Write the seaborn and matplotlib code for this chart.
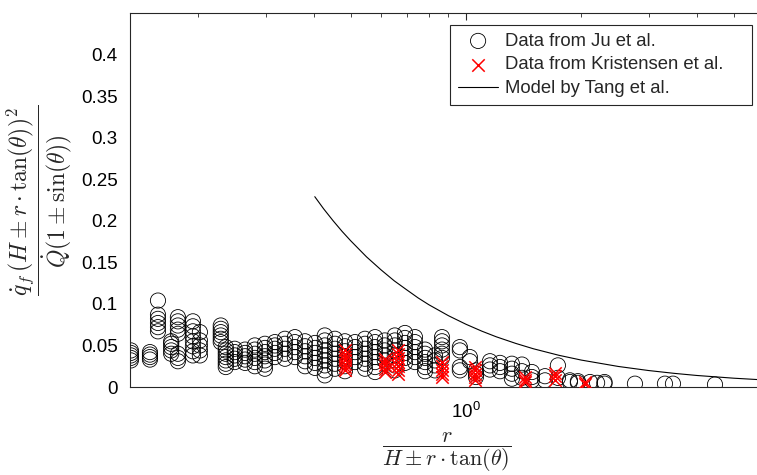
import numpy as np
import pandas as pd
import matplotlib
matplotlib.use("Agg")
import matplotlib.pyplot as plt
import matplotlib.ticker as mticker
import seaborn as sns

# ---------------- data ----------------
ju_cols_x = [0.1334, 0.1496, 0.157, 0.170, 0.177, 0.1937, 0.202, 0.229, 0.236,
             0.249, 0.265, 0.281, 0.2986, 0.317, 0.3368, 0.3576, 0.380, 0.4034,
             0.428, 0.455, 0.483, 0.513, 0.545, 0.579, 0.614, 0.652, 0.693,
             0.736, 0.782, 0.830, 0.866, 0.964, 1.024, 1.062, 1.155, 1.227,
             1.318, 1.400, 1.487, 1.608, 1.738, 1.868, 1.96, 2.108, 2.20, 2.30,
             2.762, 3.308, 3.471, 4.469]
ju_cols_y = [
    [0.032, 0.035, 0.038, 0.041, 0.044],
    [0.033, 0.036, 0.039, 0.042],
    [0.104, 0.087, 0.082, 0.077, 0.072, 0.067],
    [0.040, 0.044, 0.048, 0.052, 0.055],
    [0.084, 0.079, 0.074, 0.069, 0.064, 0.040, 0.035, 0.031],
    [0.079, 0.073, 0.067, 0.061, 0.055, 0.049, 0.043, 0.038],
    [0.066, 0.056, 0.050, 0.044, 0.038],
    [0.074, 0.070, 0.066, 0.062, 0.058, 0.054],
    [0.048, 0.044, 0.040, 0.036, 0.032, 0.028, 0.024],
    [0.046, 0.042, 0.038, 0.034, 0.030],
    [0.045, 0.041, 0.037, 0.033, 0.029],
    [0.050, 0.045, 0.040, 0.035, 0.030, 0.025],
    [0.052, 0.047, 0.042, 0.037, 0.032, 0.027, 0.022],
    [0.054, 0.050, 0.046, 0.041, 0.036],
    [0.058, 0.052, 0.046, 0.040, 0.034],
    [0.060, 0.054, 0.048, 0.042, 0.036],
    [0.055, 0.049, 0.043, 0.037, 0.031, 0.025],
    [0.053, 0.047, 0.041, 0.035, 0.029, 0.023],
    [0.062, 0.056, 0.050, 0.044, 0.038, 0.032, 0.026, 0.020, 0.014],
    [0.058, 0.052, 0.046, 0.040, 0.034, 0.028, 0.022],
    [0.055, 0.049, 0.043, 0.037, 0.031, 0.025, 0.019],
    [0.054, 0.048, 0.042, 0.036, 0.030],
    [0.058, 0.052, 0.046, 0.040, 0.034, 0.028, 0.022],
    [0.060, 0.054, 0.048, 0.042, 0.036, 0.030, 0.024, 0.018],
    [0.056, 0.050, 0.044, 0.038, 0.032],
    [0.062, 0.056, 0.050, 0.044, 0.038, 0.032, 0.026, 0.020],
    [0.065, 0.059, 0.053, 0.047, 0.041, 0.035, 0.029],
    [0.060, 0.054, 0.048, 0.042, 0.036, 0.030],
    [0.045, 0.040, 0.035, 0.030, 0.024, 0.019],
    [0.038, 0.032, 0.026, 0.020],
    [0.060, 0.055, 0.050, 0.045, 0.040, 0.035],
    [0.048, 0.044, 0.024, 0.020],
    [0.036, 0.031],
    [0.020, 0.016, 0.012],
    [0.031, 0.026, 0.021],
    [0.029, 0.024, 0.019],
    [0.028, 0.022, 0.016, 0.010],
    [0.027, 0.019, 0.011],
    [0.018, 0.012, 0.008],
    [0.013, 0.008],
    [0.026, 0.011],
    [0.008, 0.006],
    [0.007, 0.005],
    [0.006],
    [0.005],
    [0.006, 0.004],
    [0.004],
    [0.004],
    [0.004],
    [0.003],
]

kr_cols_x = [0.483, 0.614, 0.666, 0.866, 1.056, 1.426, 1.71, 2.046]
kr_cols_y = [
    [0.020, 0.024, 0.028, 0.032, 0.036, 0.040, 0.044],
    [0.018, 0.022, 0.026, 0.030, 0.034],
    [0.016, 0.020, 0.025, 0.030, 0.035, 0.040, 0.045],
    [0.012, 0.016, 0.020, 0.025, 0.030],
    [0.008, 0.012, 0.016, 0.020, 0.024],
    [0.006, 0.009, 0.012],
    [0.009, 0.013, 0.017],
    [0.004, 0.006],
]

model_x = [0.403, 0.425, 0.45, 0.475, 0.5, 0.55, 0.6, 0.65, 0.7, 0.75, 0.8,
           0.9, 1.0, 1.1, 1.2, 1.35, 1.5, 1.75, 2.0, 2.5, 3.0, 3.5, 4.0, 5.0, 6.0]
model_y = [0.229, 0.2144, 0.200, 0.1872, 0.176, 0.1566, 0.141, 0.1277, 0.117,
           0.1072, 0.099, 0.0858, 0.0755, 0.0672, 0.0604, 0.0524, 0.0460,
           0.0381, 0.0324, 0.0247, 0.0198, 0.0164, 0.0139, 0.0106, 0.0085]

y_ticks = [0, 0.05, 0.1, 0.15, 0.2, 0.25, 0.3, 0.35, 0.4]
legend_labels = ["Data from Ju et al.", "Data from Kristensen et al.",
                 "Model by Tang et al."]

ju_df = pd.DataFrame({
    "x": [x for x, ys in zip(ju_cols_x, ju_cols_y) for _ in ys],
    "y": [y for ys in ju_cols_y for y in ys],
})
kr_df = pd.DataFrame({
    "x": [x for x, ys in zip(kr_cols_x, kr_cols_y) for _ in ys],
    "y": [y for ys in kr_cols_y for y in ys],
})
model_df = pd.DataFrame({"x": model_x, "y": model_y})

# ---------------- style ----------------
sns.set_style("white")
plt.rcParams["font.family"] = ["Liberation Sans", "DejaVu Sans"]
plt.rcParams["axes.edgecolor"] = "#262626"
plt.rcParams["axes.linewidth"] = 0.8

fig = plt.figure(figsize=(7.57, 4.75), dpi=100)
W, H = 757, 475
ax_left, ax_right, ax_top, ax_bot = 130, 764, 13, 387
ax = fig.add_axes([ax_left / W, 1 - ax_bot / H,
                   (ax_right - ax_left) / W, (ax_bot - ax_top) / H])

sns.scatterplot(data=ju_df, x="x", y="y", ax=ax, marker="o", s=120,
                facecolors="none", edgecolor="black", linewidth=0.6,
                label=legend_labels[0], zorder=2)
sns.scatterplot(data=kr_df, x="x", y="y", ax=ax, marker="x", s=80,
                color="red", linewidth=1.1, label=legend_labels[1], zorder=3)
sns.lineplot(data=model_df, x="x", y="y", ax=ax, color="black",
             linewidth=0.8, label=legend_labels[2], zorder=4)

ax.set_xscale("log")
ax.set_xlim(0.1327, 6.0)
ax.set_ylim(0, 0.45)

ax.xaxis.set_major_locator(mticker.LogLocator(base=10))
ax.xaxis.set_minor_locator(mticker.LogLocator(base=10, subs=np.arange(2, 10)))
ax.xaxis.set_minor_formatter(mticker.NullFormatter())
ax.xaxis.set_major_formatter(mticker.LogFormatterSciNotation())
ax.set_yticks(y_ticks)
ax.yaxis.set_major_formatter(mticker.FuncFormatter(lambda v, p: f"{v:g}"))

ax.tick_params(axis="both", which="both", direction="in", top=True,
               right=True, colors="#262626", labelcolor="black",
               labelsize=13.5)
ax.tick_params(axis="x", which="major", length=5, width=0.8, pad=11)
ax.tick_params(axis="x", which="minor", length=3, width=0.6)
ax.tick_params(axis="y", which="major", length=4, width=0.6, pad=9)

ax.set_xlabel(r"$\dfrac{r}{H \pm r \cdot \tan(\theta)}$", fontsize=16,
              math_fontfamily="cm")
ax.xaxis.set_label_coords(0.5, -0.114)
ax.xaxis.label.set_va("top")
ax.set_ylabel(r"$\dfrac{\dot{q}_f\,(H \pm r \cdot \tan(\theta))^2}{\dot{Q}(1 \pm \sin(\theta))}$",
              fontsize=17, math_fontfamily="cm")
ax.yaxis.set_label_coords(-0.088, 0.5)

leg = ax.legend(loc="upper left",
                bbox_to_anchor=(450 / W, 1 - 102 / H, 302 / W, 77 / H),
                bbox_transform=fig.transFigure, borderaxespad=0,
                mode="expand",
                fontsize=13.3, frameon=True, fancybox=False, framealpha=1,
                edgecolor="#262626", handlelength=2.2, handletextpad=0.38,
                labelspacing=0.36, borderpad=0.42)
leg.get_frame().set_linewidth(0.8)

fig.savefig("out.png", dpi=100)
